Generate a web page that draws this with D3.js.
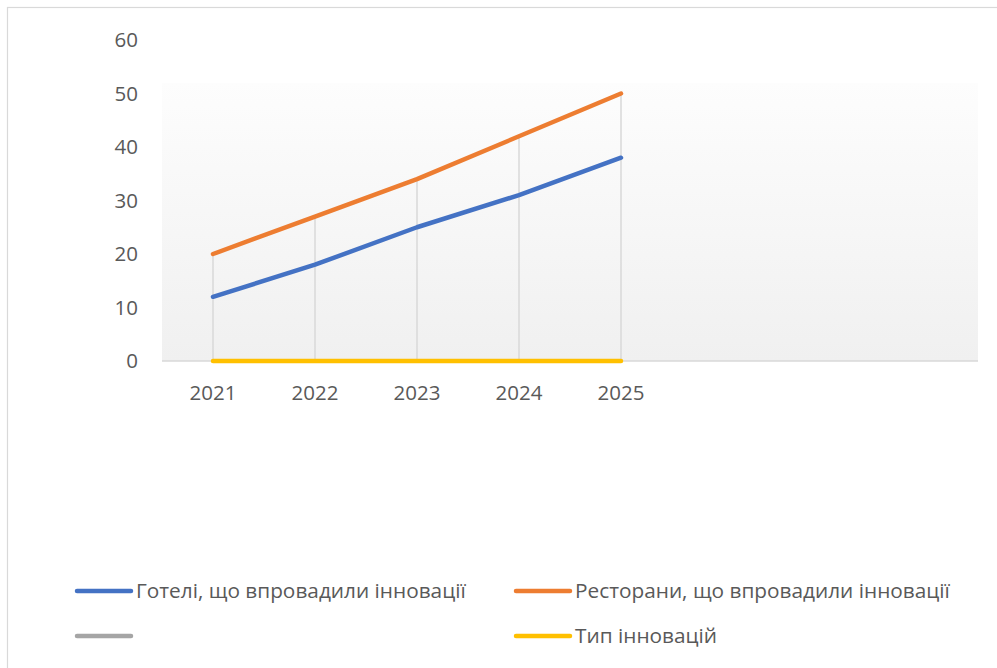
<!DOCTYPE html>
<html><head><meta charset="utf-8">
<script src="https://cdn.jsdelivr.net/npm/d3@7"></script>
<style>body{margin:0;background:#fff}svg{display:block}text{font-family:"Open Sans",sans-serif}</style>
</head><body>
<svg id="c" width="997" height="668"></svg>
<script>
const categories = ["2021","2022","2023","2024","2025","","",""];
const hotels = [12,18,25,31,38];
const restaurants = [20,27,34,42,50];
const unnamed = [];
const types = [0,0,0,0,0];
const yTicks = [0,10,20,30,40,50,60];
const seriesNames = ["Готелі, що впровадили інновації","Ресторани, що впровадили інновації","","Тип інновацій"];
const colors = ["#4472c4","#ed7d31","#a5a5a5","#ffc000"];

const svg = d3.select("#c");
const plot = {left:162, right:978, top:83, bottom:361};
const x = d3.scaleBand().domain(d3.range(categories.length)).range([plot.left, plot.right]);
const y = d3.scaleLinear().domain([0,60]).range([361,40]);

const defs = svg.append("defs");
const g = defs.append("linearGradient").attr("id","bg").attr("x1",0).attr("y1",0).attr("x2",0).attr("y2",1);
g.append("stop").attr("offset","0%").attr("stop-color","#fdfdfd");
g.append("stop").attr("offset","100%").attr("stop-color","#f0f0f0");

svg.append("rect").attr("x",7.5).attr("y",7.5).attr("width",1000).attr("height",670)
  .attr("fill","#fff").attr("stroke","#d9d9d9").attr("stroke-width",1.2);

svg.append("rect").attr("x",plot.left).attr("y",plot.top).attr("width",plot.right-plot.left)
  .attr("height",plot.bottom-plot.top).attr("fill","url(#bg)");

// y axis labels
const yAxis = d3.axisLeft(y).tickValues(yTicks).tickSize(0).tickPadding(0);
const ya = svg.append("g").attr("transform","translate(138,0)").call(yAxis);
ya.select(".domain").remove();
ya.selectAll("text").attr("font-size",20.5).attr("fill","#595959").attr("font-family","'Open Sans',sans-serif");

// drop lines
const series = [hotels, restaurants, unnamed, types];
const cx = i => x(i) + x.bandwidth()/2;
const maxes = hotels.map((_,i)=>d3.max(series, s => s[i]));
svg.append("g").selectAll("line").data(maxes).join("line")
  .attr("x1",(d,i)=>cx(i)).attr("x2",(d,i)=>cx(i))
  .attr("y1",d=>y(d)).attr("y2",y(0))
  .attr("stroke","#d9d9d9").attr("stroke-width",1.5);

// x axis
const xAxis = d3.axisBottom(x).tickSize(0).tickPadding(0).tickFormat(i=>categories[i]);
const xa = svg.append("g").attr("transform",`translate(0,${y(0)})`).call(xAxis);
xa.select(".domain").attr("stroke","#d9d9d9").attr("stroke-width",1.5).attr("d",`M${plot.left},0H${plot.right}`);
xa.selectAll("text").attr("font-size",20.5).attr("fill","#595959").attr("dy","0").attr("y",39)
  .attr("font-family","'Open Sans',sans-serif");

// lines
const line = d3.line().x((d,i)=>cx(i)).y(d=>y(d));
series.forEach((s,k)=>{
  if(!s.length) return;
  svg.append("path").datum(s).attr("d",line).attr("fill","none")
    .attr("stroke",colors[k]).attr("stroke-width",4.5).attr("stroke-linecap","round").attr("stroke-linejoin","round");
});

// legend
const legPos = [[77,591],[516,591],[77,636],[516,636]];
seriesNames.forEach((n,k)=>{
  const [lx,ly] = legPos[k];
  svg.append("line").attr("x1",lx).attr("x2",lx+54).attr("y1",ly).attr("y2",ly)
    .attr("stroke",colors[k]).attr("stroke-width",4.5).attr("stroke-linecap","round");
  svg.append("text").attr("x",lx+59).attr("y",ly+7).text(n)
    .attr("font-size",20.8).attr("fill","#595959");
});
</script>
</body></html>
